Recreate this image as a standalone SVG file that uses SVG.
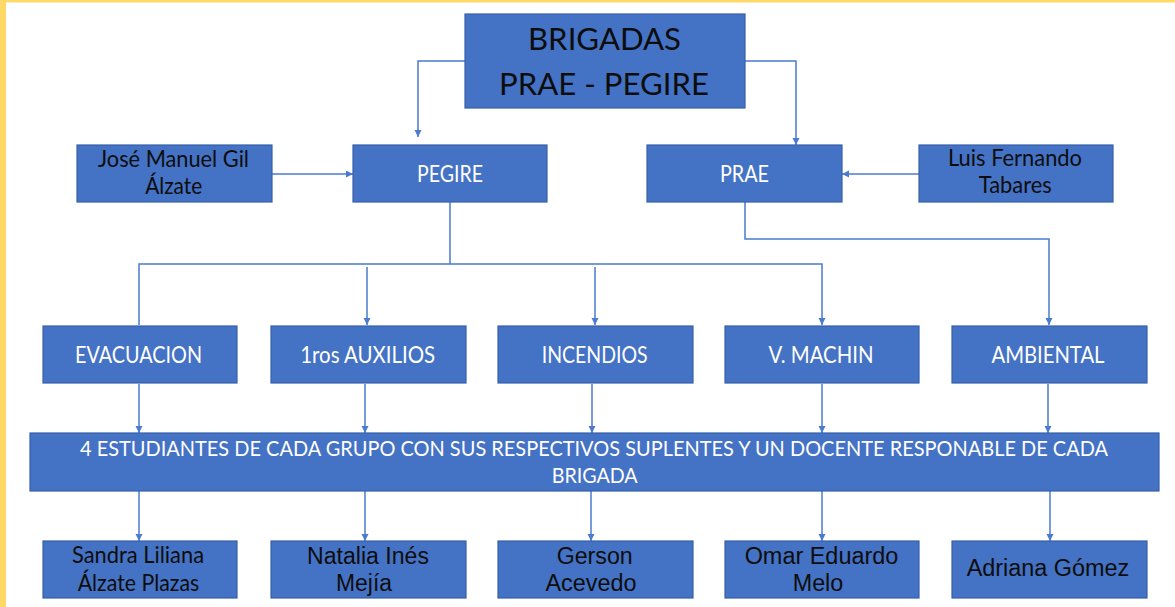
<svg xmlns="http://www.w3.org/2000/svg" width="1175" height="607" viewBox="0 0 1175 607">
<style>
.box{fill:#4472C4;stroke:#3660A8;stroke-width:1.2}
.c{font-family:Lato,"Liberation Sans",sans-serif;text-anchor:middle}
.a{font-family:"Liberation Sans",Arial,sans-serif;text-anchor:middle;fill:#0d0d0d;font-size:23px}
.w{fill:#ffffff;font-size:23px}
.k{fill:#0d0d0d;font-size:23px}
.t{fill:#0d0d0d;font-size:30px}
.b{fill:#ffffff;font-size:21px}
.ln{fill:none;stroke:#4A7BD0;stroke-width:1.5;marker-end:url(#ah)}
</style>
<defs>
<marker id="ah" markerUnits="userSpaceOnUse" markerWidth="8" markerHeight="8" refX="7" refY="3.5" orient="auto">
<path d="M0,0 L7,3.5 L0,7 z" fill="#4A7BD0"/>
</marker>
</defs>
<rect x="0" y="0" width="1175" height="607" fill="#ffffff"/>
<rect x="0" y="0" width="1175" height="2.5" fill="#FFD966"/>
<rect x="0" y="0" width="6" height="607" fill="#FFD966"/>

<g id="connectors">
<path class="ln" d="M465,61 H418 V137"/>
<path class="ln" d="M745,61 H796 V145"/>
<path class="ln" d="M272,174 H353"/>
<path class="ln" d="M919,174 H842"/>
<path fill="none" stroke="#4A7BD0" stroke-width="1.5" d="M450,202 V264"/>
<path class="ln" d="M139,325 V264 H822 V325"/>
<path class="ln" d="M367,267 V325"/>
<path class="ln" d="M595,267 V325"/>
<path class="ln" d="M745,202 V239 H1049 V325"/>
<path class="ln" d="M139,384 V433"/>
<path class="ln" d="M365,384 V433"/>
<path class="ln" d="M592,384 V433"/>
<path class="ln" d="M822,384 V433"/>
<path class="ln" d="M1048,384 V433"/>
<path class="ln" d="M139,491 V541"/>
<path class="ln" d="M365,491 V541"/>
<path class="ln" d="M591,491 V541"/>
<path class="ln" d="M822,491 V541"/>
<path class="ln" d="M1050,491 V541"/>
</g>

<g id="brigadas">
<rect class="box" x="465" y="14" width="280" height="94"/>
<text class="c t" x="604.5" y="50" textLength="153" lengthAdjust="spacingAndGlyphs">BRIGADAS</text>
<text class="c t" x="604" y="95" textLength="210" lengthAdjust="spacingAndGlyphs">PRAE - PEGIRE</text>
</g>

<g id="jose">
<rect class="box" x="77" y="145" width="195" height="57"/>
<text class="c k" x="173.5" y="167" textLength="151" lengthAdjust="spacingAndGlyphs">José Manuel Gil</text>
<text class="c k" x="173.7" y="194" textLength="57" lengthAdjust="spacingAndGlyphs">Álzate</text>
</g>

<g id="pegire">
<rect class="box" x="353" y="145" width="194" height="57"/>
<text class="c w" x="450" y="182" textLength="66" lengthAdjust="spacingAndGlyphs">PEGIRE</text>
</g>

<g id="prae">
<rect class="box" x="647" y="145" width="195" height="57"/>
<text class="c w" x="744.5" y="182" textLength="49" lengthAdjust="spacingAndGlyphs">PRAE</text>
</g>

<g id="luis">
<rect class="box" x="919" y="145" width="194" height="57"/>
<text class="c k" x="1015" y="166" textLength="134" lengthAdjust="spacingAndGlyphs">Luis Fernando</text>
<text class="c k" x="1015.3" y="193" textLength="73" lengthAdjust="spacingAndGlyphs">Tabares</text>
</g>

<g id="evacuacion">
<rect class="box" x="43" y="326" width="194" height="57"/>
<text class="c w" x="138.5" y="363" textLength="127" lengthAdjust="spacingAndGlyphs">EVACUACION</text>
</g>
<g id="auxilios">
<rect class="box" x="271" y="326" width="195" height="57"/>
<text class="c w" x="367.7" y="363" textLength="135" lengthAdjust="spacingAndGlyphs">1ros AUXILIOS</text>
</g>
<g id="incendios">
<rect class="box" x="498" y="326" width="195" height="57"/>
<text class="c w" x="594.7" y="363" textLength="106" lengthAdjust="spacingAndGlyphs">INCENDIOS</text>
</g>
<g id="machin">
<rect class="box" x="725" y="326" width="194" height="57"/>
<text class="c w" x="821" y="363" textLength="105" lengthAdjust="spacingAndGlyphs">V. MACHIN</text>
</g>
<g id="ambiental">
<rect class="box" x="952" y="326" width="195" height="57"/>
<text class="c w" x="1048" y="363" textLength="113" lengthAdjust="spacingAndGlyphs">AMBIENTAL</text>
</g>

<g id="estudiantes">
<rect class="box" x="30" y="433" width="1129" height="58"/>
<text class="c b" x="594" y="456" textLength="1028" lengthAdjust="spacingAndGlyphs">4 ESTUDIANTES DE CADA GRUPO CON SUS RESPECTIVOS SUPLENTES Y UN DOCENTE RESPONABLE DE CADA</text>
<text class="c b" x="594.7" y="482.5" textLength="86" lengthAdjust="spacingAndGlyphs">BRIGADA</text>
</g>

<g id="sandra">
<rect class="box" x="43" y="541" width="194" height="57"/>
<text class="c k" x="138" y="563" textLength="132" lengthAdjust="spacingAndGlyphs">Sandra Liliana</text>
<text class="c k" x="138.5" y="590.5" textLength="121.7" lengthAdjust="spacingAndGlyphs">Álzate Plazas</text>
</g>
<g id="natalia">
<rect class="box" x="271" y="541" width="195" height="57"/>
<text class="a" x="368" y="564" textLength="122" lengthAdjust="spacingAndGlyphs">Natalia Inés</text>
<text class="a" x="364" y="590.7" textLength="56" lengthAdjust="spacingAndGlyphs">Mejía</text>
</g>
<g id="gerson">
<rect class="box" x="498" y="541" width="195" height="57"/>
<text class="a" x="594.7" y="564" textLength="76" lengthAdjust="spacingAndGlyphs">Gerson</text>
<text class="a" x="591" y="591" textLength="91" lengthAdjust="spacingAndGlyphs">Acevedo</text>
</g>
<g id="omar">
<rect class="box" x="725" y="541" width="194" height="57"/>
<text class="a" x="821.5" y="564" textLength="153.7" lengthAdjust="spacingAndGlyphs">Omar Eduardo</text>
<text class="a" x="818" y="591" textLength="50.6" lengthAdjust="spacingAndGlyphs">Melo</text>
</g>
<g id="adriana">
<rect class="box" x="952" y="541" width="195" height="57"/>
<text class="a" x="1048" y="576" textLength="162.7" lengthAdjust="spacingAndGlyphs">Adriana Gómez</text>
</g>
</svg>
